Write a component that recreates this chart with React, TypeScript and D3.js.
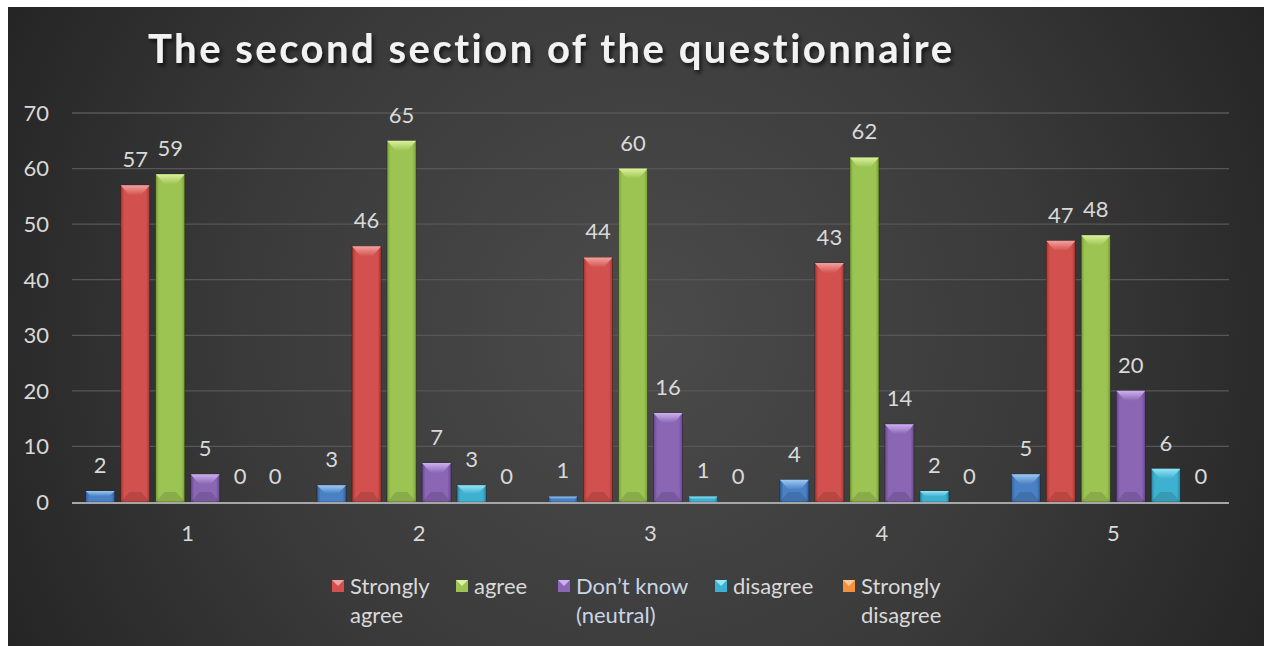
import React from "react";
import * as d3 from "d3";

// Questionnaire responses, section two: five questions, counts per answer
const questions = ["1", "2", "3", "4", "5"];
const unlabeled = [2, 3, 1, 4, 5];
const stronglyAgree = [57, 46, 44, 43, 47];
const agree = [59, 65, 60, 62, 48];
const dontKnow = [5, 7, 16, 14, 20];
const disagree = [0, 3, 1, 2, 6];
const stronglyDisagree = [0, 0, 0, 0, 0];
const yTicks = [0, 10, 20, 30, 40, 50, 60, 70];
const legendLabels = [
  ["Strongly", "agree"],
  ["agree"],
  ["Don’t know", "(neutral)"],
  ["disagree"],
  ["Strongly", "disagree"],
];

const series = [
  { key: "s0", values: unlabeled, base: "#4a80c4", dark: "#2f5f9c", top: "#9ccaf2" },
  { key: "s1", values: stronglyAgree, base: "#d2514e", dark: "#a83431", top: "#f3a19e" },
  { key: "s2", values: agree, base: "#9cc453", dark: "#799f35", top: "#dbf29d" },
  { key: "s3", values: dontKnow, base: "#8a66b4", dark: "#654590", top: "#cdb0ef" },
  { key: "s4", values: disagree, base: "#3fb1d0", dark: "#2888a4", top: "#95e6f7" },
  { key: "s5", values: stronglyDisagree, base: "#f0923e", dark: "#c46d22", top: "#fcc992" },
];

const W = 1264;
const H = 646;
const FONT = "Lato, 'Open Sans', sans-serif";
const TEXT = "#d9d9d9";
const FS = 22;

export default function App() {
  const x0 = d3.scaleBand<string>().domain(questions).range([72, 1229]).padding(0);
  const x1 = d3
    .scaleBand<string>()
    .domain(series.map((s) => s.key))
    .range([0, x0.bandwidth()])
    .paddingInner(0.17)
    .paddingOuter(0.39);
  const y = d3.scaleLinear().domain([0, 70]).range([502, 113]);

  const bw = x1.bandwidth();

  // legend item anchors (marker left edge); text follows the marker
  const legendX = [332, 456, 558, 715, 843];
  const row1 = 594;
  const lineH = 29;

  return (
    <svg
      width={W}
      height={H}
      style={{ position: "absolute", left: 0, top: 0, display: "block" }}
    >
      <defs>
        <radialGradient id="bg" gradientUnits="userSpaceOnUse" cx={640} cy={330} r={720}>
          <stop offset="0" stopColor="#4b4b4b" />
          <stop offset="0.55" stopColor="#3a3a3a" />
          <stop offset="1" stopColor="#242424" />
        </radialGradient>
        <filter id="titleShadow" x="-5%" y="-30%" width="110%" height="160%">
          <feDropShadow dx="2" dy="3" stdDeviation="2" floodColor="#000" floodOpacity="0.7" />
        </filter>
        {series.map((s) => (
          <linearGradient key={s.key} id={`g-${s.key}`} x1="0" x2="1" y1="0" y2="0">
            <stop offset="0" stopColor={s.dark} />
            <stop offset="0.12" stopColor={s.base} />
            <stop offset="0.5" stopColor={s.base} />
            <stop offset="0.88" stopColor={s.base} />
            <stop offset="1" stopColor={s.dark} />
          </linearGradient>
        ))}
        {series.map((s) => (
          <linearGradient key={`t${s.key}`} id={`t-${s.key}`} x1="0" x2="0" y1="0" y2="1">
            <stop offset="0" stopColor={s.top} />
            <stop offset="1" stopColor={s.base} />
          </linearGradient>
        ))}
      </defs>

      <rect x={0} y={0} width={W} height={H} fill="#ffffff" />
      <rect x={8} y={7} width={W - 8} height={H - 7} fill="url(#bg)" />

      <text
        x={148}
        y={63}
        fontFamily={FONT}
        fontWeight={700}
        fontSize={40}
        fill="#f2f2f2"
        textLength={804}
        lengthAdjust="spacing"
        style={{ fontVariantLigatures: "none" }}
        filter="url(#titleShadow)"
      >
        The second section of the questionnaire
      </text>

      {/* gridlines and value axis labels */}
      {yTicks.map((t) => (
        <g key={t}>
          {t !== 0 && (
            <line x1={72} x2={1229} y1={y(t)} y2={y(t)} stroke="#575757" strokeWidth={1.3} />
          )}
          <text
            x={49}
            y={y(t)}
            dy="0.36em"
            textAnchor="end"
            fontFamily={FONT}
            fontSize={FS}
            fill={TEXT}
          >
            {t}
          </text>
        </g>
      ))}

      {/* bars */}
      {questions.map((q, qi) => (
        <g key={q} transform={`translate(${x0(q)},0)`}>
          {series.map((s) => {
            const v = s.values[qi];
            const bx = x1(s.key) as number;
            const top = y(v);
            const h = y(0) - top;
            const bev = Math.min(10, h / 2);
            const ins = Math.min(bw * 0.3, bev * 1.0);
            return (
              <g key={s.key}>
                {h > 0 && (
                  <>
                    <rect
                      x={bx}
                      y={top}
                      width={bw}
                      height={h}
                      fill={`url(#g-${s.key})`}
                      stroke="rgba(0,0,0,0.35)"
                      strokeWidth={0.8}
                    />
                    <polygon
                      points={`${bx},${top} ${bx + bw},${top} ${bx + bw - ins},${top + bev} ${bx + ins},${top + bev}`}
                      fill={`url(#t-${s.key})`}
                    />
                    {h > 2 * bev && (
                      <polygon
                        points={`${bx},${y(0)} ${bx + bw},${y(0)} ${bx + bw - ins},${y(0) - bev} ${bx + ins},${y(0) - bev}`}
                        fill="rgba(0,0,0,0.12)"
                      />
                    )}
                  </>
                )}
                <text
                  x={bx + bw / 2}
                  y={top - 18}
                  textAnchor="middle"
                  fontFamily={FONT}
                  fontSize={FS}
                  fill={TEXT}
                >
                  {v}
                </text>
              </g>
            );
          })}
        </g>
      ))}

      {/* category axis */}
      <line x1={72} x2={1229} y1={y(0) + 1} y2={y(0) + 1} stroke="#a6a6a6" strokeWidth={2} />
      {questions.map((q) => (
        <text
          key={q}
          x={(x0(q) as number) + x0.bandwidth() / 2}
          y={541}
          textAnchor="middle"
          fontFamily={FONT}
          fontSize={FS}
          fill={TEXT}
        >
          {q}
        </text>
      ))}

      {/* legend */}
      {legendLabels.map((lines, i) => {
        const s = series[i + 1];
        const mx = legendX[i];
        return (
          <g key={i}>
            <rect x={mx} y={row1 - 14} width={12} height={12} fill={s.base} />
            <polygon
              points={`${mx},${row1 - 14} ${mx + 12},${row1 - 14} ${mx + 6},${row1 - 8}`}
              fill={s.top}
            />
            {lines.map((ln, li) => (
              <text
                key={li}
                x={mx + 18}
                y={row1 + li * lineH}
                fontFamily={FONT}
                fontSize={FS}
                fill={i === 2 ? "#c9d5e6" : TEXT}
              >
                {ln}
              </text>
            ))}
          </g>
        );
      })}
    </svg>
  );
}
